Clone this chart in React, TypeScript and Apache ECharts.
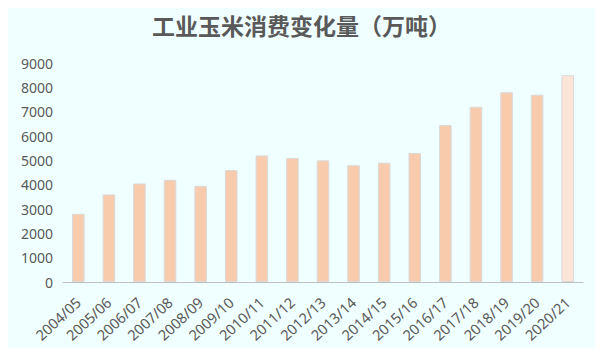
import React, { useEffect, useRef } from "react";
import * as echarts from "echarts";

const categories = [
  "2004/05", "2005/06", "2006/07", "2007/08", "2008/09", "2009/10",
  "2010/11", "2011/12", "2012/13", "2013/14", "2014/15", "2015/16",
  "2016/17", "2017/18", "2018/19", "2019/20", "2020/21",
];
const values = [
  2800, 3600, 4050, 4200, 3950, 4600, 5200, 5100, 5000, 4800, 4900, 5300,
  6450, 7200, 7800, 7700, 8500,
];
const yTicks = [0, 1000, 2000, 3000, 4000, 5000, 6000, 7000, 8000, 9000];
const titleText = "工业玉米消费变化量（万吨）";

export default function App() {
  const ref = useRef<HTMLDivElement>(null);
  useEffect(() => {
    if (!ref.current) return;
    const chart = echarts.init(ref.current, undefined, { renderer: "svg" });
    const lastIdx = values.length - 1;
    chart.setOption({
      animation: false,
      backgroundColor: "#F0FFFF",
      title: {
        text: titleText,
        left: "center",
        top: 13,
        padding: [0, 11, 0, 0],
        textStyle: {
          fontFamily: "Noto Sans CJK SC",
          fontWeight: "bold",
          fontSize: 23,
          color: "#595959",
        },
      },
      grid: { left: 63, right: 20, top: 63, bottom: 74, containLabel: false },
      xAxis: {
        type: "category",
        data: categories,
        axisLine: { lineStyle: { color: "#BFBFBF", width: 1 } },
        axisTick: { show: false },
        axisLabel: {
          rotate: 43,
          interval: 0,
          color: "#595959",
          fontSize: 14.5,
          fontFamily: "Noto Sans",
          margin: 18,
        },
      },
      yAxis: {
        type: "value",
        min: yTicks[0],
        max: yTicks[yTicks.length - 1],
        interval: 1000,
        axisLine: { show: false },
        axisTick: { show: false },
        splitLine: { show: false },
        axisLabel: {
          color: "#595959",
          fontSize: 14,
          fontFamily: "Noto Sans",
          margin: 10,
          formatter: (v: number) => String(v),
        },
      },
      series: [
        {
          type: "bar",
          barWidth: "41%",
          data: values.map((v, i) => ({
            value: v,
            itemStyle:
              i === lastIdx
                ? { color: "#FCE4D6", borderColor: "#D9D9D9", borderWidth: 1 }
                : { color: "#F8CBAD", borderColor: "#D9D9D9", borderWidth: 1 },
          })),
        },
      ],
    });
    return () => chart.dispose();
  }, []);
  return <div ref={ref} style={{ width: 603, height: 356, margin: -8 }} />;
}
